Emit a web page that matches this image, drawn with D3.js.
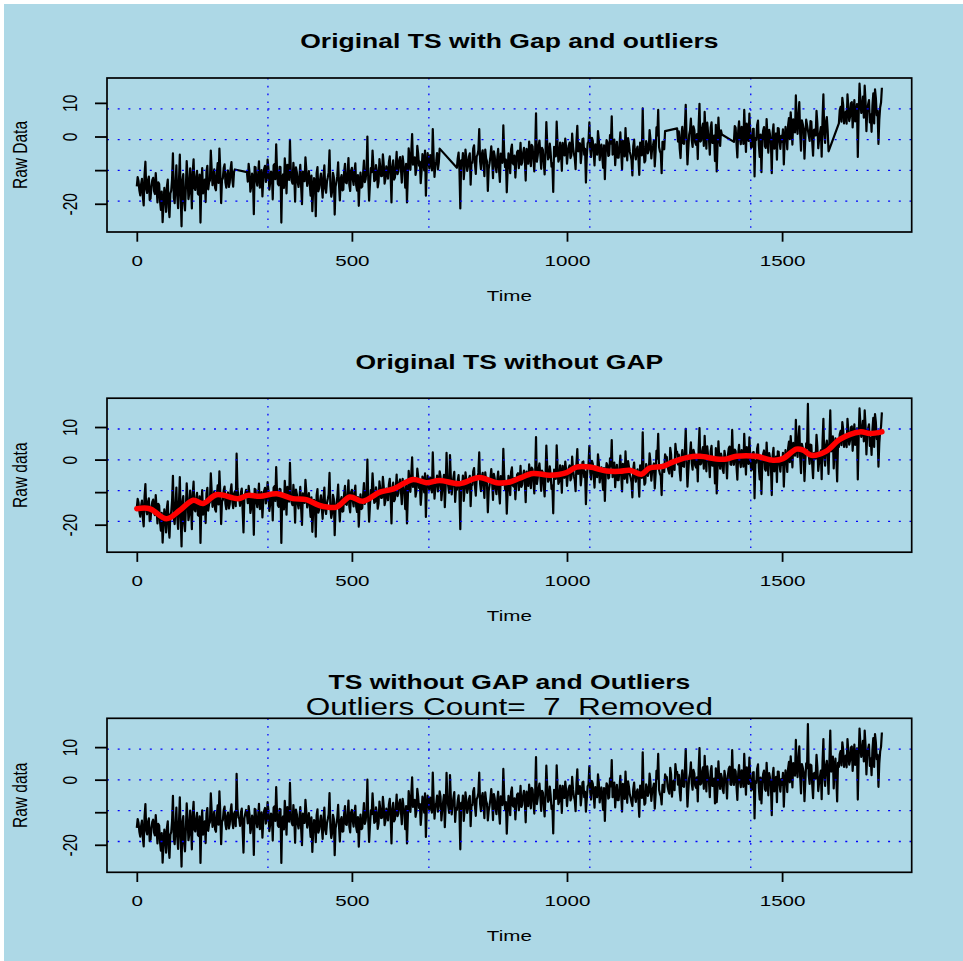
<!DOCTYPE html>
<html><head><meta charset="utf-8">
<script src="https://cdn.jsdelivr.net/npm/d3@7"></script>
<style>html,body{margin:0;padding:0;background:#fff;} svg{display:block;}</style>
</head><body>
<script>
// ---- data ----
const timeStart = 0, timeStep = 4;
// values at t = 0, 4, 8, ...
const rawValues = [
-14.8,-13.2,-17.5,-12.6,-20.5,-7.5,-16.8,-11.9,-18.4,-13.0,-16.2,-10.9,-19.6,-14.1,-21.8,-25.5,-15.3,-22.4,-12.8,-24.0,-16.1,-5.0,-19.8,-8.6,-21.3,
-5.4,-26.7,-11.2,-22.0,-7.3,-18.6,-9.5,-21.4,-6.8,-15.9,-10.2,-17.3,-25.6,-9.4,-14.8,-19.5,-8.7,-13.6,-4.2,-14.5,-9.8,-16.0,-7.9,-3.6,-19.8,
-12.4,-8.3,-15.2,-10.1,-13.7,-7.6,-14.9,-9.8,1.8,-11.6,-14.2,-8.9,-22.4,-10.5,-10.6,-8.1,-16.4,-11.0,-23.1,-9.2,-14.6,-7.4,-12.9,-17.8,-9.6,
-13.5,-6.9,-15.8,-10.4,-18.7,-8.2,-2.3,-14.1,-9.0,-25.6,-11.3,-6.5,-16.9,-9.7,-1.0,-13.2,-7.8,-19.4,-10.6,-15.0,-8.4,-20.1,-11.8,-6.2,-14.7,
-10.3,-17.6,-22.2,-12.4,-23.7,-9.1,-15.3,-11.0,-18.2,-8.6,-16.7,-12.1,-4.1,-17.9,-10.8,-23.2,-13.4,-7.7,-19.0,-11.5,-15.8,-8.1,-13.9,-6.4,-16.2,
-9.3,-14.4,-8.0,-16.1,-20.6,-10.7,-14.9,-7.2,-12.6,0.0,-19.1,-9.4,-4.2,-13.3,-8.5,-15.1,-6.7,-11.8,-5.3,-14.0,-8.9,-12.5,-5.9,-19.6,-7.1,
-12.2,-4.6,-10.4,-6.1,-13.7,-8.3,-15.2,-19.6,-3.5,-9.9,0.7,-7.6,-11.4,-2.8,-8.7,-13.9,-5.2,-10.1,-17.6,-4.9,-9.5,-6.3,2.2,-12.0,-7.4,
-9.8,-3.6,-12.5,-6.9,-14.6,2.1,-8.2,1.4,-10.7,-5.5,-13.0,-9.3,-4.8,-21.4,-8.6,-12.7,-3.9,-10.2,-6.0,-14.3,-7.8,-2.6,-11.1,-5.4,2.2,
-9.7,-4.1,-11.8,-6.5,-16.2,-8.0,-2.9,-12.4,-5.8,-10.6,-3.7,-13.5,-7.2,3.3,-9.1,-16.6,-5.0,-10.9,-2.4,-8.3,-12.2,-4.6,-9.4,-1.9,-7.7,
-3.4,-13.1,-6.2,-1.5,-8.8,-3.0,-10.4,6.9,-5.7,-1.2,-9.6,-4.0,-11.3,4.3,-6.8,-2.1,-9.0,-16.5,-3.3,4.4,-7.5,-1.8,-10.2,-4.5,-0.6,
-8.1,-2.7,-6.4,0.9,-5.1,-9.7,3.2,-3.6,-7.9,-0.8,-5.4,-13.7,-2.0,4.2,-6.1,-1.3,-8.6,-3.1,1.6,-7.0,-2.4,-9.3,-12.7,-1.1,-5.8,
0.4,6.0,-4.7,-8.5,-1.6,-6.3,1.2,-9.8,-3.9,2.5,-7.1,-2.2,-5.6,-11.6,-0.9,-6.8,-3.0,-11.4,-4.3,8.4,-7.7,-1.4,-5.0,1.9,-6.5,
-2.6,-8.9,2.7,7.9,-4.4,-10.9,-1.7,1.6,0.8,-3.5,3.6,-5.2,-0.3,4.8,2.4,1.5,-6.4,2.9,-2.2,9.4,-8.3,0.6,5.3,-3.1,1.9,
-2.5,-6.7,9.7,-1.2,3.8,7.3,-3.6,1.1,-5.4,4.2,-1.9,-7.3,-10.4,5.6,-2.8,0.6,-4.1,0.9,-5.8,3.4,-1.5,9.1,-1.6,2.6,-6.2,
4.5,-2.3,1.7,7.9,-4.6,0.3,6.8,-3.4,2.2,-11.9,-1.0,4.7,-6.1,-10.6,1.8,-2.9,5.2,-4.8,0.5,-10.9,3.6,-2.0,-6.9,2.4,-3.7,
-1.6,-8.3,2.9,-3.8,5.5,7.2,-2.4,4.1,12.2,0.8,10.2,-4.2,3.7,-6.6,5.0,17.1,-1.3,4.4,-5.7,2.1,7.6,-3.5,1.0,-6.0,12.5,
-1.9,5.8,-4.4,15.1,3.2,-2.7,6.5,-6.7,3.9,8.8,11.5,3.9,7.4,12.5,4.6,9.9,2.7,10.8,5.3,-6.1,15.7,7.0,11.9,15.1,1.6,
9.6,4.2,1.4,12.8,14.0,6.3,-2.2,8.7,14.5
];
// values in between, at t = 2, 6, 10, ...
const rawMid = [
-12.1,-16.0,-14.2,-17.8,-11.4,-15.6,-13.0,-18.9,-14.7,-12.3,-17.1,-15.0,-13.6,-19.2,-16.4,-20.3,-17.5,-14.8,-21.0,-16.9,-12.7,-18.3,-14.1,-17.6,-13.2,
-17.4,-13.1,-19.5,-15.2,-12.0,-16.8,-13.9,-10.6,-15.4,-12.2,-17.0,-11.3,-14.6,-16.9,-12.8,-10.4,-15.7,-13.0,-9.6,-12.5,-15.3,-11.1,-13.8,-9.9,-12.9,
-9.4,-13.6,-11.2,-15.0,-9.7,-12.8,-10.5,-14.3,-8.8,-12.0,-10.1,-15.6,-11.9,-9.3,-13.4,-10.7,-14.8,-12.2,-9.0,-13.1,-11.4,-15.2,-10.0,-12.6,-8.7,
-12.3,-9.5,-13.8,-11.0,-8.6,-12.7,-10.2,-14.5,-9.1,-12.0,-15.3,-10.8,-8.4,-12.9,-10.6,-14.0,-11.5,-9.2,-13.6,-11.9,-15.1,-10.4,-13.3,-9.8,-12.7,
-14.2,-11.6,-15.8,-13.0,-10.9,-16.3,-12.8,-14.9,-11.7,-15.5,-13.4,-10.6,-14.7,-16.4,-12.1,-15.0,-11.8,-14.3,-12.5,-16.0,-10.4,-13.7,-11.2,-14.4,-10.1,
-12.7,-10.3,-14.6,-11.5,-13.9,-15.2,-11.0,-13.6,-9.8,-12.4,-14.1,-10.6,-8.7,-12.9,-10.2,-13.5,-9.1,-11.7,-8.3,-12.6,-10.0,-7.6,-11.3,-9.2,-12.8,
-8.9,-11.2,-7.0,-9.8,-5.9,-10.5,-8.1,-11.7,-6.6,-4.8,-8.4,-6.2,-9.7,-5.1,-7.5,-10.3,-6.8,-4.2,-9.0,-7.3,-5.5,-10.1,-6.0,-8.6,-4.9,
-7.8,-5.2,-9.4,-4.7,-8.0,-6.3,-10.2,-5.6,-7.9,-3.8,-8.7,-6.5,-10.0,-7.1,-4.9,-9.3,-6.4,-8.8,-5.0,-7.7,-3.6,-8.2,-6.0,-4.1,-7.4,
-5.3,-8.1,-3.9,-7.4,-9.6,-5.8,-7.0,-4.4,-8.9,-6.2,-9.9,-5.1,-7.8,-4.6,-6.9,-10.1,-6.6,-3.8,-8.0,-5.7,-7.5,-4.2,-6.8,-8.4,-4.9,
-6.6,-3.7,-8.1,-4.6,-2.5,-6.9,-4.1,-7.5,-2.8,-5.3,-3.4,-7.7,-5.0,-2.1,-6.2,-4.8,-8.0,-3.1,-5.9,-2.4,-6.7,-4.3,-1.9,-5.6,-3.2,
-4.9,-1.8,-5.7,-3.0,-6.3,-1.2,-4.4,-2.0,-5.1,-0.6,-3.7,-6.0,-1.5,-3.9,-0.4,-4.6,-2.3,-5.4,-1.0,-3.8,-6.1,-2.6,-4.7,-1.7,-5.5,
-2.1,-5.4,-0.9,-4.2,-6.3,-2.7,-4.8,-1.3,-5.9,-3.3,-0.5,-4.6,-7.0,-2.9,-5.2,-3.8,-6.4,-1.8,-5.6,-3.1,-7.2,-2.4,-4.0,-0.8,-3.5,
-1.2,-4.5,0.3,-3.1,-5.0,-1.6,-3.8,0.9,-2.2,-4.3,1.6,-0.9,-3.2,2.1,-1.5,-3.6,0.4,-2.0,2.8,-0.6,-3.4,1.9,-1.1,3.0,-1.8,
0.7,3.2,-1.5,2.4,-2.8,1.0,4.1,-0.7,2.6,-1.9,0.3,3.5,-2.4,-0.2,1.8,-3.1,2.7,-0.9,1.3,4.0,-1.6,0.5,3.1,-2.0,1.7,
-0.6,2.9,-2.2,1.4,3.8,-1.3,0.8,-3.0,2.3,-0.4,3.4,-2.6,0.6,-1.1,2.8,-3.4,0.1,2.0,-1.8,1.1,-3.6,0.9,2.5,-1.4,0.2,
2.1,-1.2,0.6,3.4,-0.8,2.7,5.1,1.2,3.9,6.3,0.9,4.8,2.3,-0.6,3.5,1.4,4.6,-1.5,2.0,0.3,3.9,-0.9,2.8,5.4,1.0,
4.3,1.7,6.0,2.5,7.1,3.6,0.9,5.2,7.8,4.4,9.3,6.1,3.8,8.6,5.9,10.2,7.0,4.5,9.6,6.8,11.0,8.3,5.6,10.4,7.9,
10.8,6.5,9.2,3.9,11.4,7.6,5.1,10.1
];
// time intervals missing in the original series (panel 1 joins straight across them)
const gapRanges = [[230,254],[706,742],[1230,1254],[1362,1386],[1557,1563],[1610,1630]];
// the 7 outliers (index into rawValues) replaced in panel 3
const outlierIndex = [104,204,261,288,305,337,363];
const outlierValue = [-19.2,-12.5,-9.8,-8.1,-7.6,-6.9,-7.3];
// smoothed trend (red line, panel 2)
const trendTime = [0,30,69,100,131,154,185,235,258,286,325,363,394,425,464,495,526,565,595,642,
  673,704,750,797,836,867,890,921,960,999,1022,1053,1092,1123,1146,1173,1192,1223,1247,1278,
  1309,1347,1371,1394,1440,1479,1502,1533,1549,1568,1603,1634,1681,1704,1732];
const trendValue = [-15.1,-15.1,-18.2,-15.6,-12.5,-13.5,-10.8,-12.0,-11.0,-11.3,-10.5,-12.0,-12.3,-14.1,-14.6,-11.5,-12.8,-10.0,-9.1,-6.1,
  -7.1,-6.4,-7.4,-5.5,-7.1,-6.9,-5.7,-4.3,-4.8,-4.0,-2.3,-2.3,-3.5,-3.6,-3.3,-4.5,-2.6,-2.1,-0.7,0.6,
  1.0,0.2,0.2,1.0,1.0,-0.2,0.3,3.2,2.9,1.3,2.6,6.2,8.5,8.0,8.5];
const xTicks = [0,500,1000,1500];
const yTicks = [-20,-10,0,10];
const yTickLabels = ["-20","","0","10"];
const titles = ["Original TS with Gap and outliers","Original TS without GAP","TS without GAP and Outliers"];
const subtitle = "Outliers Count=  7  Removed";
const yLabels = ["Raw Data","Raw data","Raw data"];
const xLabel = "Time";

// ---- drawing ----
const W=963,H=961;
const font="'Liberation Sans', Arial, Helvetica, sans-serif";
const SX=1.33;
const svg=d3.select("body").append("svg").attr("width",W).attr("height",H);
svg.append("rect").attr("x",4).attr("y",4).attr("width",W-4).attr("height",H-4).attr("fill","#ADD8E6");

const boxL=107, boxR=911.7, boxH=154, tops=[78,398.2,718.3];

const series=[];
rawValues.forEach((v,i)=>{
  series.push({t:timeStart+i*timeStep,v,i});
  if(i<rawMid.length) series.push({t:timeStart+i*timeStep+timeStep/2,v:rawMid[i],i:-1});
});
const gapSeries=series.filter(d=>!gapRanges.some(([a,b])=>d.t>=a&&d.t<=b));
const cleanSeries=series.map(d=>{const k=d.i>=0?outlierIndex.indexOf(d.i):-1;return k<0?d:{t:d.t,v:outlierValue[k],i:d.i};});
const trend=trendTime.map((t,i)=>({t,v:trendValue[i]}));
const panels=[{data:gapSeries,trend:null},{data:series,trend:trend},{data:cleanSeries,trend:null}];

function usr(ext){const s=ext[1]-ext[0];return [ext[0]-0.04*s,ext[1]+0.04*s];}
const x=d3.scaleLinear().domain(usr(d3.extent(series,d=>d.t))).range([boxL,boxR]);

panels.forEach((p,pi)=>{
  const top=tops[pi], bot=top+boxH, cx=(boxL+boxR)/2;
  const y=d3.scaleLinear().domain(usr(d3.extent(p.data,d=>d.v))).range([bot,top]);
  const g=svg.append("g");
  const clipId="clip"+pi;
  g.append("clipPath").attr("id",clipId).append("rect").attr("x",boxL).attr("y",top).attr("width",boxR-boxL).attr("height",boxH);
  const line=d3.line().x(d=>x(d.t)).y(d=>y(d.v));
  g.append("path").datum(p.data).attr("d",line).attr("fill","none").attr("stroke","#000")
    .attr("stroke-width",2.2).attr("stroke-linejoin","round").attr("clip-path",`url(#${clipId})`);
  // grid
  const xd=x.domain(), yd=y.domain();
  const gx=d3.range(1,5).map(k=>xd[0]+k*(xd[1]-xd[0])/5);
  const gy=d3.range(1,5).map(k=>yd[0]+k*(yd[1]-yd[0])/5);
  g.selectAll(null).data(gx).enter().append("line")
    .attr("x1",d=>x(d)).attr("x2",d=>x(d)).attr("y1",top).attr("y2",bot)
    .attr("stroke","#0000FF").attr("stroke-width",1.3).attr("stroke-dasharray","1.6 6.2");
  g.selectAll(null).data(gy).enter().append("line")
    .attr("x1",boxL).attr("x2",boxR).attr("y1",d=>y(d)).attr("y2",d=>y(d))
    .attr("stroke","#0000FF").attr("stroke-width",1.3).attr("stroke-dasharray","2 8.7");
  if(p.trend){
    g.append("path").datum(p.trend).attr("d",d3.line().x(d=>x(d.t)).y(d=>y(d.v)).curve(d3.curveCatmullRom))
      .attr("fill","none").attr("stroke","#FF0000").attr("stroke-width",5.5).attr("stroke-linecap","round");
  }
  // box
  g.append("rect").attr("x",boxL).attr("y",top).attr("width",boxR-boxL).attr("height",boxH)
    .attr("fill","none").attr("stroke","#000").attr("stroke-width",1.7);
  // x axis
  const ax=g.append("g").attr("transform",`translate(0,${bot})`)
    .call(d3.axisBottom(x).tickValues(xTicks).tickSize(9.7).tickFormat(d3.format("d")));
  ax.select(".domain").remove();
  ax.selectAll("line").attr("stroke","#000").attr("stroke-width",1.8);
  ax.selectAll("text").attr("y",33.7).attr("dy",null).attr("transform",`scale(${SX},1)`)
    .attr("font-size",15.5).attr("font-family",font).attr("fill","#000");
  // y axis
  const ay=g.append("g").attr("transform",`translate(${boxL},0)`)
    .call(d3.axisLeft(y).tickValues(yTicks).tickSize(12).tickFormat((d,i)=>yTickLabels[i]));
  ay.select(".domain").remove();
  ay.selectAll("line").attr("stroke","#000").attr("stroke-width",1.8);
  ay.selectAll("text").attr("x",0).attr("dy",null).attr("text-anchor","middle")
    .attr("transform",`translate(-29.7,0) scale(${SX},1) rotate(-90)`)
    .attr("font-size",15.5).attr("font-family",font).attr("fill","#000");
  // titles & labels
  g.append("text").attr("transform",`translate(${cx},${top-29.7}) scale(1.36,1)`)
    .attr("text-anchor","middle").attr("font-family",font).attr("font-weight","bold")
    .attr("font-size",19.5).attr("fill","#000").text(titles[pi]);
  if(pi===2){
    g.append("text").attr("transform",`translate(${cx},${top-3.3}) scale(1.37,1)`)
      .attr("text-anchor","middle").attr("font-family",font).attr("font-size",23)
      .style("white-space","pre").attr("fill","#000").text(subtitle);
  }
  g.append("text").attr("transform",`translate(${cx},${bot+68.5}) scale(${SX},1)`)
    .attr("text-anchor","middle").attr("font-family",font).attr("font-size",15.5).attr("fill","#000").text(xLabel);
  g.append("text").attr("transform",`translate(26.7,${(top+bot)/2}) scale(${SX},1) rotate(-90)`)
    .attr("text-anchor","middle").attr("font-family",font).attr("font-size",15.5).attr("fill","#000").text(yLabels[pi]);
});
</script>
</body></html>
